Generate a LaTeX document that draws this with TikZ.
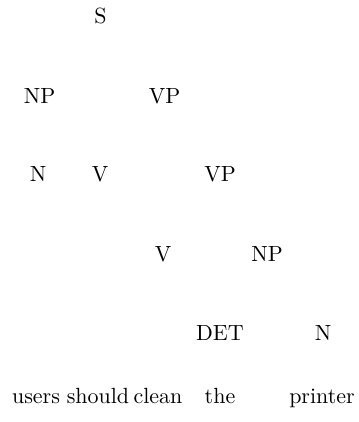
\documentclass[tikz,border=0pt]{standalone}
\usepackage{tikz}
\usetikzlibrary{positioning}
\tikzset{
  kat/.style={anchor=base,inner sep=0pt},
  szo/.style={anchor=base,inner sep=0pt},
}
\begin{document}
\begin{tikzpicture}[x=0.455pt,y=-0.455pt]
  \useasboundingbox (0,0) rectangle (358,422);
  \foreach \n/\x/\y/\lab in {s/100.5/24/S, np1/39.5/104/NP, vp1/164.5/104/VP,
    n1/38/182/N, v1/100/182/V, vp2/220/182/VP,
    v2/163/261/V, np2/267/261/NP, det/220/340/DET, n2/323/340/N} {
    \node[kat] (\n) at (\x,\y) {\lab};
  }
  \foreach \n/\x/\lab in {w1/36/users, w2/98/should, w3/158/clean, w4/220/the, w5/322/printer} {
    \node[szo] (\n) at (\x,403) {\lab};
  }
\end{tikzpicture}
\end{document}
